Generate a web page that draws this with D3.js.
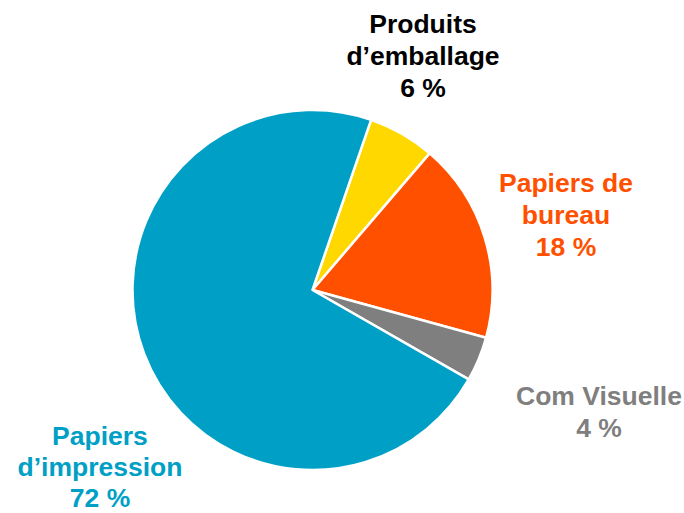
<!DOCTYPE html>
<html>
<head>
<meta charset="utf-8">
<script src="https://cdn.jsdelivr.net/npm/d3@7"></script>
<style>
  html, body { margin: 0; padding: 0; background: #fff; }
  svg { display: block; }
  text { font-family: "Liberation Sans", Arial, sans-serif; font-weight: bold; }
</style>
</head>
<body>
<svg id="chart" width="684" height="513"></svg>
<script>
// Data
const categories = ["Produits d’emballage", "Papiers de bureau", "Com Visuelle", "Papiers d’impression"];
const labelLines = [["Produits", "d’emballage"], ["Papiers de", "bureau"], ["Com Visuelle"], ["Papiers", "d’impression"]];
const values = [6, 18, 4, 72];
const valueLabels = ["6 %", "18 %", "4 %", "72 %"];
const colors = ["#FFD800", "#FF5000", "#7F7F7F", "#00A0C6"];
const textColors = ["#000000", "#FF5000", "#7F7F7F", "#00A0C6"];

// Layout
const W = 684, H = 513;
const cx = 312.5, cy = 290, R = 180;
const startDeg = 19;
const labelPos = [ // center x, first baseline
  [423, 33],
  [566, 192],
  [599, 405],
  [100, 445]
];
const lineH = 32;

const svg = d3.select("#chart");
const g = svg.append("g").attr("transform", `translate(${cx},${cy})`);

const start = startDeg * Math.PI / 180;
const pie = d3.pie().sort(null).startAngle(start).endAngle(start + 2 * Math.PI);
const arc = d3.arc().innerRadius(0).outerRadius(R);
const color = d3.scaleOrdinal().domain(categories).range(colors);
const tcolor = d3.scaleOrdinal().domain(categories).range(textColors);

const arcs = pie(values);
g.selectAll("path").data(arcs).join("path")
  .attr("d", arc)
  .attr("fill", (d, i) => color(categories[i]))
  .attr("stroke", "#fff")
  .attr("stroke-width", 2.5)
  .attr("stroke-linejoin", "round");

categories.forEach((c, i) => {
  const lines = labelLines[i].concat([valueLabels[i]]);
  const t = svg.append("text")
    .attr("text-anchor", "middle")
    .attr("fill", tcolor(c))
    .attr("font-size", 26.5);
  lines.forEach((ln, j) => {
    t.append("tspan")
      .attr("x", labelPos[i][0])
      .attr("y", labelPos[i][1] + j * (i === 3 ? 31 : lineH))
      .text(ln);
  });
});
</script>
</body>
</html>
